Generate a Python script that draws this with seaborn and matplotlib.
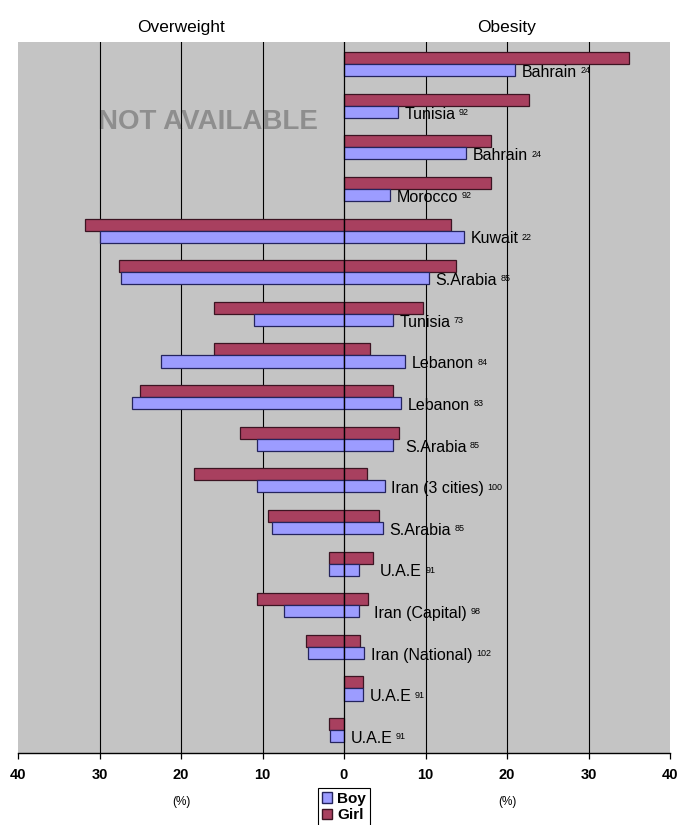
import matplotlib
matplotlib.use("Agg")
import matplotlib.pyplot as plt
from matplotlib import font_manager
from matplotlib.patches import Patch
from matplotlib.ticker import FixedLocator, FuncFormatter
import pandas as pd
import seaborn as sns

# Survey rows, top to bottom, with reference numbers
labels = ["Bahrain", "Tunisia", "Bahrain", "Morocco", "Kuwait", "S.Arabia",
          "Tunisia", "Lebanon", "Lebanon", "S.Arabia", "Iran (3 cities)",
          "S.Arabia", "U.A.E", "Iran (Capital)", "Iran (National)", "U.A.E", "U.A.E"]
refs = ["24", "92", "24", "92", "22", "85", "73", "84", "83", "85", "100",
        "85", "91", "98", "102", "91", "91"]

# Prevalence (%) — None means not available
boy_obesity = [21.0, 6.6, 15.0, 5.7, 14.7, 10.4, 6.0, 7.5, 7.0, 6.0, 5.0,
               4.8, 1.9, 1.9, 2.5, 2.3, 0.0]
girl_obesity = [35.0, 22.7, 18.0, 18.0, 13.1, 13.8, 9.7, 3.2, 6.0, 6.7, 2.8,
                4.3, 3.6, 2.9, 2.0, 2.3, 0.0]
boy_overweight = [None, None, None, None, 30.0, 27.4, 11.1, 22.5, 26.0, 10.7,
                  10.7, 8.8, 1.9, 7.4, 4.4, 0.0, 1.7]
girl_overweight = [None, None, None, None, 31.8, 27.6, 16.0, 16.0, 25.0, 12.7,
                   18.4, 9.3, 1.8, 10.7, 4.7, 0.0, 1.8]

x_ticks = [-40, -30, -20, -10, 0, 10, 20, 30, 40]
side_titles = ["Overweight", "Obesity"]

installed = {f.name for f in font_manager.fontManager.ttflist}
narrow = "Liberation Sans Narrow" if "Liberation Sans Narrow" in installed else None
plain = "Liberation Sans"
label_font = narrow or plain
label_size = 13.5 if narrow else 11.5

boy_color, girl_color = "#9c9cff", "#a8405f"
boy_edge, girl_edge = "#24245e", "#3c1422"

n = len(labels)
rows = [f"r{i}" for i in range(n)]


def long_frame(girl, boy, sign):
    recs = []
    for sex, vals in (("Girl", girl), ("Boy", boy)):
        for r, v in zip(rows, vals):
            if v is not None and v != 0:
                recs.append({"row": r, "sex": sex, "value": sign * v})
    return pd.DataFrame(recs)


df_overweight = long_frame(girl_overweight, boy_overweight, -1)
df_obesity = long_frame(girl_obesity, boy_obesity, 1)

fig = plt.figure(figsize=(6.78, 8.25), dpi=100)
ax = fig.add_axes([18 / 678, 72 / 825, 652 / 678, 711 / 825])
ax.set_facecolor("#c4c4c4")

palette = {"Girl": girl_color, "Boy": boy_color}
for d in (df_overweight, df_obesity):
    sns.barplot(data=d, x="value", y="row", hue="sex", order=rows,
                hue_order=["Girl", "Boy"], palette=palette, orient="h",
                width=0.58, saturation=1, errorbar=None, legend=False,
                ax=ax, zorder=2, linewidth=0.9)

for p in ax.patches:
    fc = matplotlib.colors.to_hex(p.get_facecolor())
    p.set_edgecolor(boy_edge if fc == boy_color else girl_edge)

# vertical grid lines behind the bars, zero line above them
for xv in x_ticks[1:-1]:
    if xv == 0:
        ax.axvline(0, color="black", lw=0.9, zorder=3)
    else:
        ax.axvline(xv, color="black", lw=0.8, zorder=0.5)

ax.text(-16.7, 1.39, "NOT AVAILABLE", ha="center", va="center",
        fontsize=24 if narrow else 20, fontweight="bold", family=label_font,
        color="#8e8e8e", zorder=0.3)

# row labels with superscript reference numbers
for i, (lab, ref) in enumerate(zip(labels, refs)):
    b = boy_obesity[i] or 0
    g = girl_obesity[i] or 0
    anchor = max(b, g) if g - b < 2 else b
    t = ax.text(anchor + 0.8, i + 0.2, lab, fontsize=label_size,
                family=label_font, ha="left", va="center", zorder=4)
    ax.annotate(ref, xy=(1, 1), xycoords=t, xytext=(2.5, -1),
                textcoords="offset points", ha="left", va="top",
                fontsize=6.5, family=label_font, zorder=4)

ax.set_xlim(-40, 40)
ax.set_ylim(n - 0.45, -0.53)
ax.set_xlabel("")
ax.set_ylabel("")
ax.set_yticks([])
ax.xaxis.set_major_locator(FixedLocator(x_ticks))
ax.xaxis.set_major_formatter(FuncFormatter(lambda v, p: f"{abs(v):.0f}"))
ax.tick_params(axis="x", direction="out", length=4, width=0.9, pad=7,
               labelsize=10.5, colors="black")
for lab in ax.get_xticklabels():
    lab.set_fontweight("bold")
    lab.set_family(plain)
for s in ("top", "right", "left"):
    ax.spines[s].set_visible(False)
ax.spines["bottom"].set_linewidth(1.0)
ax.spines["bottom"].set_color("black")

xt = ax.get_xaxis_transform()
for xv, title in zip((-20, 20), side_titles):
    ax.text(xv, 1.021, title, transform=xt, ha="center", va="center",
            fontsize=14 if narrow else 12.5, family=label_font)
    ax.text(xv, -0.069, "(%)", transform=xt, ha="center", va="center",
            fontsize=8.5, family=plain)

handles = [Patch(facecolor=boy_color, edgecolor=boy_edge, label="Boy"),
           Patch(facecolor=girl_color, edgecolor=girl_edge, label="Girl")]
leg = fig.legend(handles=handles, loc="upper center",
                 bbox_to_anchor=(0.507, 0.054), frameon=True, fancybox=False,
                 edgecolor="black", framealpha=1, handlelength=0.7,
                 handleheight=0.7, handletextpad=0.3, borderpad=0.25,
                 labelspacing=0.15,
                 prop={"family": plain, "weight": "bold", "size": 11})
leg.get_frame().set_linewidth(0.8)

fig.savefig("out.png", dpi=100, facecolor="white")
